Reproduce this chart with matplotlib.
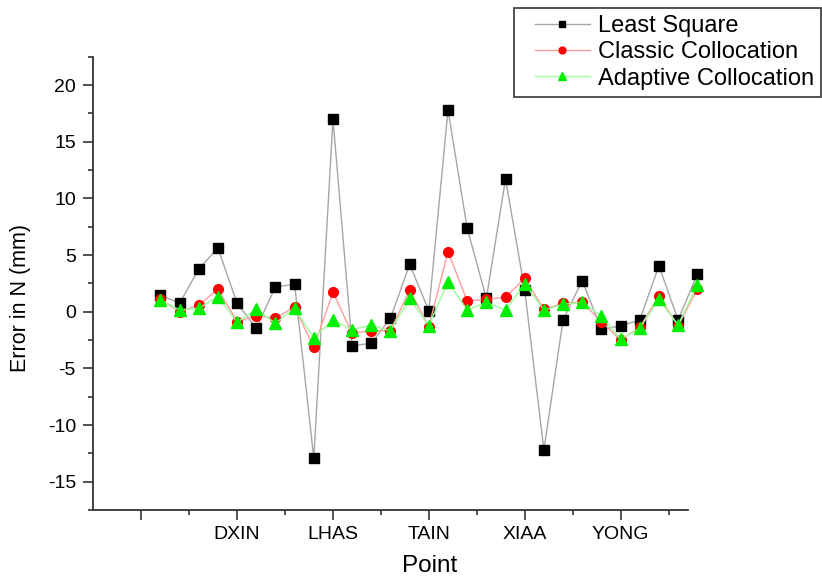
import numpy as np
import matplotlib
matplotlib.use("Agg")
import matplotlib.pyplot as plt
from matplotlib.ticker import FixedLocator
from matplotlib.legend_handler import HandlerLine2D

plt.rcParams['font.family'] = ['Liberation Sans', 'DejaVu Sans']
plt.rcParams['axes.unicode_minus'] = False

points = list(range(1, 30))
least_square = [1.47, 0.74, 3.77, 5.62, 0.74, -1.47, 2.2, 2.41, -12.94, 17.0,
                -3.0, -2.8, -0.59, 4.18, 0.09, 17.8, 7.36, 1.18, 11.71, 1.91,
                -12.2, -0.73, 2.74, -1.56, -1.26, -0.73, 4.06, -0.73, 3.3]
classic = [1.09, 0.0, 0.59, 1.98, -0.88, -0.35, -0.59, 0.44, -3.15, 1.71,
           -1.91, -1.68, -1.68, 1.91, -1.32, 5.3, 0.94, 1.09, 1.27, 2.94,
           0.21, 0.74, 0.83, -0.88, -2.5, -1.38, 1.38, -1.26, 1.98]
adaptive = [1.03, 0.15, 0.3, 1.32, -0.94, 0.24, -1.03, 0.3, -2.29, -0.73,
            -1.59, -1.18, -1.7, 1.18, -1.24, 2.65, 0.15, 0.83, 0.15, 2.44,
            0.15, 0.65, 0.83, -0.38, -2.44, -1.47, 1.09, -1.18, 2.35]
tick_pos = [0, 5, 10, 15, 20, 25]
tick_names = ['', 'DXIN', 'LHAS', 'TAIN', 'XIAA', 'YONG']

fig = plt.figure(figsize=(8.22, 5.81), dpi=100)
ax = fig.add_axes([0.1135, 0.1222, 0.7231, 0.7802])

l1, = ax.plot(points, least_square, '-s', color='#a6a6a6', lw=1.0, mfc='black', mec='black',
              ms=6.5, label='Least Square', clip_on=False)
l2, = ax.plot(points, classic, '-o', color='#ff9c9c', lw=1.0, mfc='red', mec='red',
              ms=7, label='Classic Collocation', clip_on=False)
l3, = ax.plot(points, adaptive, '-^', color='#9cff9c', lw=1.0, mfc='#00ee00', mec='#00ee00',
              ms=8, label='Adaptive Collocation', clip_on=False)

ax.set_xlim(-2.5, 28.5)
ax.set_ylim(-17.5, 22.5)
ax.xaxis.set_major_locator(FixedLocator(tick_pos))
ax.set_xticklabels(tick_names)
ax.xaxis.set_minor_locator(FixedLocator([2.5, 7.5, 12.5, 17.5, 22.5, 27.5]))
ax.yaxis.set_major_locator(FixedLocator([-15, -10, -5, 0, 5, 10, 15, 20]))
ax.yaxis.set_minor_locator(FixedLocator([-17.5, -12.5, -7.5, -2.5, 2.5, 7.5, 12.5, 17.5, 22.5]))

for s in ['top', 'right']:
    ax.spines[s].set_visible(False)
for s in ['left', 'bottom']:
    ax.spines[s].set_linewidth(1.3)
    ax.spines[s].set_color('#333333')

ax.tick_params(which='major', length=7.5, width=1.2, color='#333333', labelsize=14, pad=4)
ax.tick_params(which='minor', length=3.8, width=1.2, color='#333333')
ax.tick_params(axis='y', pad=5)

ax.set_xlabel('Point', fontsize=17.5)
ax.xaxis.set_label_coords(0.565, -0.1)
ax.set_ylabel('Error in N (mm)', fontsize=15.5)
ax.yaxis.set_label_coords(-0.104, 0.468)

hmap = {h: HandlerLine2D(xpad=0.6) for h in (l1, l2, l3)}
leg = ax.legend(loc='upper right', bbox_to_anchor=(821 / 822, 1 - 8 / 581),
                bbox_transform=fig.transFigure, borderaxespad=0, fontsize=17,
                fancybox=False, framealpha=1, edgecolor='#444444', handlelength=2.92,
                handletextpad=0.35, labelspacing=0.18, borderpad=0.3, markerscale=0.7,
                handler_map=hmap)
leg.get_frame().set_linewidth(1.3)

fig.savefig('out.png', dpi=100)
